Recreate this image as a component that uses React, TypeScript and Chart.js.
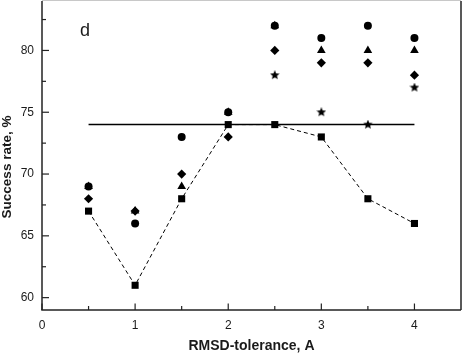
import React, { useEffect, useRef } from "react";
import { Chart, registerables } from "chart.js";

Chart.register(...registerables);

const xValues = [0.5, 1, 1.5, 2, 2.5, 3, 3.5, 4];
const circleValues = [69, 66, 73, 75, 82, 81, 82, 81];
const triangleValues = [69, 67, 69, 75, 82, 80, 80, 80];
const diamondValues = [68, 67, 70, 73, 80, 79, 79, 78];
const starValues = [null, null, null, null, 78, 75, 74, 77];
const squareValues = [67, 61, 68, 74, 74, 73, 68, 66];
const refLineX = [0.5, 4];
const refLineY = [74, 74];

const xMajorTicks = [0, 1, 2, 3, 4];
const xMinorTicks = [0.5, 1.5, 2.5, 3.5];
const yMajorTicks = [60, 65, 70, 75, 80];
const yMinorTicks = [62.5, 67.5, 72.5, 77.5, 82.5];

const xTitle = "RMSD-tolerance, A";
const yTitle = "Success rate, %";
const panelLabel = "d";

const FONT = "'Liberation Sans', Arial, sans-serif";
const INK = "#1a1a1a";

function makeStar(size: number) {
  const c = document.createElement("canvas");
  c.width = size;
  c.height = size;
  const g = c.getContext("2d")!;
  const cx = size / 2, cy = size / 2, R = size / 2, r = R * 0.45;
  g.beginPath();
  for (let i = 0; i < 10; i++) {
    const rad = i % 2 ? r : R;
    const a = -Math.PI / 2 + (i * Math.PI) / 5;
    g.lineTo(cx + rad * Math.cos(a), cy + rad * Math.sin(a));
  }
  g.closePath();
  g.fillStyle = "#000";
  g.fill();
  return c;
}

const pts = (ys: (number | null)[]) => xValues.map((x, i) => ({ x, y: ys[i] }));

const framePlugin = {
  id: "frame",
  beforeDatasetsDraw(chart: any) {
    const { ctx, chartArea, scales } = chart;
    const { left, right, top, bottom } = chartArea;
    const x = scales.x, y = scales.y;
    const line = (x1: number, y1: number, x2: number, y2: number) => {
      ctx.beginPath();
      ctx.moveTo(x1, y1);
      ctx.lineTo(x2, y2);
      ctx.stroke();
    };
    ctx.save();
    ctx.strokeStyle = "#c8c8c8";
    ctx.lineWidth = 1;
    line(left, top - 0.5, right, top - 0.5);
    ctx.strokeStyle = "#222";
    ctx.lineWidth = 1.5;
    line(left, top, left, bottom);
    line(left - 0.75, bottom, right, bottom);
    line(right, top, right, bottom);
    ctx.lineWidth = 1.2;
    for (const v of xMajorTicks) {
      const px = x.getPixelForValue(v);
      line(px, bottom, px, bottom - 6.5);
    }
    for (const v of xMinorTicks) {
      const px = x.getPixelForValue(v);
      line(px, bottom, px, bottom - 4);
    }
    for (const v of yMajorTicks) {
      const py = y.getPixelForValue(v);
      line(left, py, left + 7, py);
    }
    for (const v of yMinorTicks) {
      const py = y.getPixelForValue(v);
      line(left, py, left + 4, py);
    }
    ctx.restore();
  },
  afterDraw(chart: any) {
    const { ctx, chartArea } = chart;
    const { left, right } = chartArea;
    ctx.save();
    ctx.fillStyle = INK;
    ctx.font = `18px ${FONT}`;
    ctx.textAlign = "left";
    ctx.textBaseline = "alphabetic";
    ctx.fillText(panelLabel, 80, 36);
    ctx.font = `bold 14px ${FONT}`;
    ctx.textAlign = "center";
    ctx.textBaseline = "alphabetic";
    ctx.fillText(xTitle, (left + right) / 2, 350);
    ctx.translate(11, 167);
    ctx.rotate(-Math.PI / 2);
    ctx.font = `bold 13.5px ${FONT}`;
    ctx.fillText(yTitle, 0, 0);
    ctx.restore();
  },
};

const zeroPad = (s: any) => {
  s.paddingTop = 0;
  s.paddingBottom = 0;
  s.paddingLeft = 0;
  s.paddingRight = 0;
};

export default function App() {
  const ref = useRef<HTMLCanvasElement>(null);
  useEffect(() => {
    const star = makeStar(10);
    const base = {
      showLine: false,
      backgroundColor: "#000",
      borderColor: "#000",
      pointBorderWidth: 0,
    };
    const chart = new Chart(ref.current!, {
      type: "scatter",
      data: {
        datasets: [
          {
            ...base,
            label: "ref",
            data: refLineX.map((x, i) => ({ x, y: refLineY[i] })),
            showLine: true,
            borderWidth: 1.5,
            pointRadius: 0,
          },
          {
            ...base,
            label: "squares",
            data: pts(squareValues),
            showLine: true,
            borderWidth: 1,
            borderDash: [4, 3],
            pointStyle: "rect",
            pointRadius: 5,
          },
          { ...base, label: "circles", data: pts(circleValues), pointStyle: "circle", pointRadius: 4 },
          { ...base, label: "triangles", data: pts(triangleValues), pointStyle: "triangle", pointRadius: 5 },
          { ...base, label: "diamonds", data: pts(diamondValues), pointStyle: "rectRot", pointRadius: 4.6 },
          { ...base, label: "stars", data: pts(starValues), pointStyle: star as any, pointRadius: 5 },
        ] as any,
      },
      options: {
        animation: false,
        responsive: false,
        layout: { autoPadding: false, padding: { top: 1, right: 1, left: 0, bottom: 0 } },
        plugins: { legend: { display: false }, tooltip: { enabled: false } },
        scales: {
          x: {
            type: "linear",
            min: 0,
            max: 4.5,
            grid: { display: false, drawTicks: false },
            border: { display: false },
            afterBuildTicks: (s: any) => {
              s.ticks = xMajorTicks.map((v) => ({ value: v }));
            },
            afterFit: (s: any) => {
              s.height = 44;
              zeroPad(s);
            },
            ticks: { color: INK, font: { family: FONT, size: 12 }, padding: 8 },
          },
          y: {
            type: "linear",
            min: 59,
            max: 84,
            grid: { display: false, drawTicks: false },
            border: { display: false },
            afterBuildTicks: (s: any) => {
              s.ticks = yMajorTicks.map((v) => ({ value: v }));
            },
            afterFit: (s: any) => {
              s.width = 42;
              zeroPad(s);
            },
            ticks: { color: INK, font: { family: FONT, size: 12 }, padding: 8 },
          },
        },
      } as any,
      plugins: [framePlugin],
    });
    return () => chart.destroy();
  }, []);
  return (
    <div style={{ position: "fixed", left: 0, top: 0, width: 462, height: 354, background: "#fff" }}>
      <canvas ref={ref} width={462} height={354} style={{ display: "block" }} />
    </div>
  );
}
